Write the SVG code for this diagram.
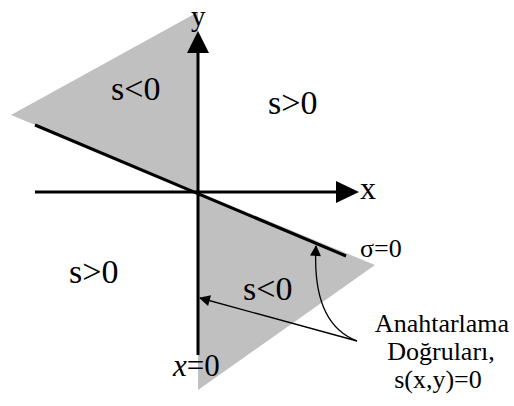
<svg xmlns="http://www.w3.org/2000/svg" width="514" height="406" viewBox="0 0 514 406">
  <style>
    .region { fill: #c0c0c0; stroke: none; }
    .axis { stroke: #000; stroke-width: 3; fill: none; }
    .thin { stroke: #000; stroke-width: 1.3; fill: none; }
    .big { font-size: 34px; }
    .ax { font-size: 32px; }
    .mid { font-size: 26px; }
  </style>
  <defs>
    <marker id="ah" viewBox="0 0 10 10" refX="9" refY="5" markerWidth="14" markerHeight="11" markerUnits="userSpaceOnUse" orient="auto">
      <path d="M0,0 L10,5 L0,10 Z" fill="#000"/>
    </marker>
  </defs>
  <g id="regions">
    <polygon class="region" points="11,115 198,12 198,192"/>
    <polygon class="region" points="198,192 375,265 198,390"/>
  </g>
  <g id="axes">
    <line class="axis" x1="35" y1="192" x2="338" y2="192"/>
    <polygon points="336,181 359,192 336,203" fill="#000"/>
    <line class="axis" x1="198" y1="355" x2="198" y2="52"/>
    <polygon points="187,53 198,31 209,53" fill="#000"/>
    <line class="axis" x1="35" y1="125" x2="346" y2="256"/>
  </g>
  <g id="labels" font-family="'Liberation Serif', 'Times New Roman', serif" fill="#000">
    <text font-size="29" x="191" y="26">y</text>
    <text class="ax" x="360" y="199">x</text>
    <text class="big" x="111" y="100">s&lt;0</text>
    <text class="big" x="268" y="114">s&gt;0</text>
    <text class="big" x="69" y="283">s&gt;0</text>
    <text class="big" x="243" y="300">s&lt;0</text>
    <text class="mid" x="360" y="257">σ=0</text>
    <text x="173" y="376" font-size="31"><tspan font-style="italic">x</tspan>=0</text>
    <text class="mid" text-anchor="middle" x="442" y="332">Anahtarlama</text>
    <text class="mid" text-anchor="middle" x="441" y="360">Doğruları,</text>
    <text class="mid" text-anchor="middle" x="438" y="388">s(x,y)=0</text>
  </g>
  <g id="connectors">
    <path class="thin" d="M357,341 L200,298" marker-end="url(#ah)"/>
    <path class="thin" d="M357,341 C328,330 313,300 316,246" marker-end="url(#ah)"/>
  </g>
</svg>
